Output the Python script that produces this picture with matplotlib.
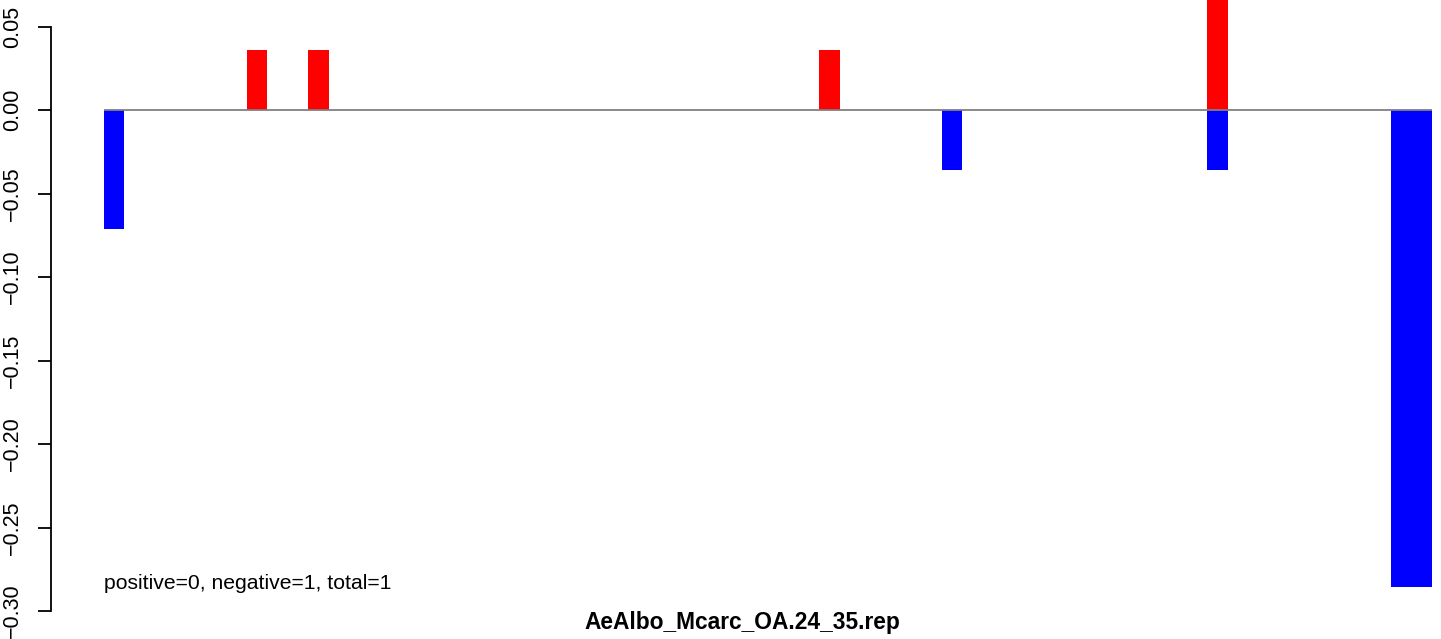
import numpy as np
import matplotlib
matplotlib.use("Agg")
import matplotlib.pyplot as plt

plt.rcParams['font.family'] = ['Liberation Sans', 'DejaVu Sans']

# data: 65 slots, positive (red) and negative (blue) values
n_slots = 65
pos_idx = [7, 10, 35, 54]
pos_val = [0.0357, 0.0357, 0.0357, 0.107]
neg_idx = [0, 41, 54, 63, 64]
neg_val = [-0.0714, -0.0357, -0.0357, -0.2857, -0.2857]
y_ticks = [-0.30, -0.25, -0.20, -0.15, -0.10, -0.05, 0.00, 0.05]
title = "AeAlbo_Mcarc_OA.24_35.rep"
note = "positive=0, negative=1, total=1"

pos = np.zeros(n_slots)
neg = np.zeros(n_slots)
pos[pos_idx] = pos_val
neg[neg_idx] = neg_val
x = np.arange(n_slots)

W, H = 1441, 639
fig = plt.figure(figsize=(W / 100, H / 100), dpi=100)

# axes placed in pixel terms
left_px, right_px, top_px, bot_px = 51, 1441, 0, 625
ax = fig.add_axes([left_px / W, 1 - bot_px / H, (right_px - left_px) / W, (bot_px - top_px) / H])

unit = 1328 / 65.0
ax.set_xlim((left_px - 104) / unit, (right_px - 104) / unit)
ppu = 1670.0
ax.set_ylim(-(bot_px - 110) / ppu, (110 - top_px) / ppu)

ax.bar(x, pos, width=1, align='edge', color='#ff0000', linewidth=0)
ax.bar(x, neg, width=1, align='edge', color='#0000ff', linewidth=0)
ax.hlines(0, 0, n_slots, color='#808080', linewidth=1.3, zorder=3)

for s in ['top', 'right', 'bottom']:
    ax.spines[s].set_visible(False)
ax.spines['left'].set_bounds(-0.30, 0.05)
ax.spines['left'].set_linewidth(1.3)
ax.set_xticks([])
ax.set_yticks(y_ticks)
ax.set_yticklabels([f"{v:.2f}".replace('-', '\u2212') for v in y_ticks],
                   rotation=90, va='center', fontsize=15.5)
ax.tick_params(axis='y', length=9.4, width=1.3, pad=11)

ax.text(0, -0.2835, note, fontsize=15.2, va='center', ha='left')
fig.text(742 / W, 1 - 622 / H, title, fontsize=16.4, fontweight='bold',
         ha='center', va='center')

fig.savefig('out.png', dpi=100)
